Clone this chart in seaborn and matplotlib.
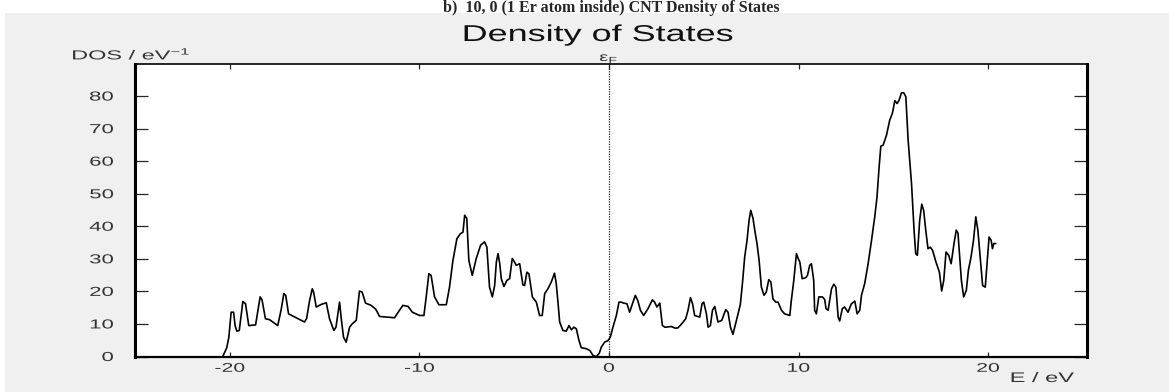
import numpy as np
import pandas as pd
import matplotlib
matplotlib.use("Agg")
import matplotlib.pyplot as plt
import seaborn as sns
from matplotlib.patheffects import AbstractPathEffect
from matplotlib.transforms import Affine2D

# ==============================
# DATA
# ==============================

energy = [
    -20.37, -20.16, -20.05, -19.93, -19.80, -19.72, -19.63, -19.50, -19.31, -19.17,
    -19.00, -18.64, -18.40, -18.30, -18.12, -17.90, -17.47, -17.29, -17.15, -17.05,
    -16.90, -16.50, -16.06, -15.95, -15.79, -15.65, -15.58, -15.44, -15.18, -14.91,
    -14.74, -14.51, -14.40, -14.21, -14.12, -14.00, -13.86, -13.68, -13.55, -13.33,
    -13.16, -13.02, -12.84, -12.54, -12.30, -12.10, -11.31, -11.05, -10.87, -10.60,
    -10.37, -9.99, -9.76, -9.64, -9.50, -9.38, -9.20, -8.97, -8.58, -8.41,
    -8.23, -8.02, -7.84, -7.70, -7.61, -7.50, -7.39, -7.21, -7.00, -6.77,
    -6.56, -6.44, -6.30, -6.15, -6.03, -5.94, -5.85, -5.76, -5.68, -5.54,
    -5.38, -5.24, -5.10, -4.98, -4.89, -4.71, -4.54, -4.45, -4.33, -4.22,
    -4.04, -3.83, -3.66, -3.52, -3.39, -3.22, -3.04, -2.87, -2.78, -2.69,
    -2.60, -2.43, -2.25, -2.11, -1.98, -1.85, -1.72, -1.58, -1.46, -1.19,
    -1.00, -0.84, -0.66, -0.51, -0.40, -0.23, -0.05, 0.07, 0.21, 0.39,
    0.53, 0.65, 0.78, 0.95, 1.09, 1.27, 1.39, 1.52, 1.66, 1.83,
    2.06, 2.29, 2.41, 2.53, 2.68, 2.82, 2.95, 3.29, 3.50, 3.64,
    3.83, 4.05, 4.17, 4.30, 4.41, 4.52, 4.79, 4.91, 5.00, 5.14,
    5.23, 5.35, 5.46, 5.58, 5.75, 5.95, 6.16, 6.28, 6.41, 6.54,
    6.68, 6.81, 6.93, 7.04, 7.16, 7.28, 7.39, 7.48, 7.60, 7.69,
    7.81, 7.92, 8.04, 8.18, 8.30, 8.43, 8.54, 8.65, 8.80, 8.92,
    9.10, 9.27, 9.54, 9.62, 9.75, 9.89, 9.98, 10.07, 10.19, 10.38,
    10.47, 10.59, 10.68, 10.80, 10.85, 10.94, 11.07, 11.26, 11.38, 11.45,
    11.56, 11.74, 11.86, 11.97, 12.09, 12.17, 12.31, 12.43, 12.61, 12.79,
    12.97, 13.09, 13.23, 13.32, 13.49, 13.67, 13.85, 14.02, 14.14, 14.25,
    14.34, 14.46, 14.64, 14.81, 14.95, 15.08, 15.20, 15.31, 15.43, 15.55,
    15.66, 15.78, 15.96, 16.10, 16.18, 16.27, 16.39, 16.50, 16.60, 16.71,
    16.83, 16.95, 17.07, 17.25, 17.43, 17.55, 17.66, 17.78, 17.92, 18.05,
    18.20, 18.32, 18.41, 18.50, 18.59, 18.71, 18.85, 18.96, 19.10, 19.23,
    19.35, 19.46, 19.59, 19.71, 19.85, 19.95, 20.05, 20.16, 20.23, 20.30,
    20.40,
]

dos = [
    0.0, 2.7, 5.9, 13.6, 13.6, 9.5, 7.8, 8.0, 16.9, 16.2,
    9.5, 9.7, 18.3, 17.4, 11.6, 11.3, 9.5, 14.4, 19.3, 18.8,
    13.1, 11.9, 10.6, 11.6, 17.2, 20.8, 19.8, 15.2, 16.0, 16.5,
    11.6, 8.0, 9.0, 16.7, 11.6, 5.9, 4.4, 9.0, 10.0, 11.1,
    20.1, 19.8, 16.4, 15.7, 14.5, 12.3, 11.9, 14.2, 15.7, 15.4,
    13.6, 12.6, 12.6, 18.3, 25.4, 24.9, 18.3, 15.9, 15.9, 21.3,
    29.5, 36.2, 37.7, 38.2, 43.4, 42.4, 29.5, 24.9, 30.1, 34.2,
    35.2, 33.6, 21.3, 18.3, 21.8, 29.0, 31.6, 28.5, 23.9, 21.5,
    23.4, 23.9, 30.1, 29.0, 28.0, 28.5, 22.0, 21.8, 25.9, 25.4,
    18.3, 16.7, 12.6, 12.6, 19.3, 20.8, 22.9, 25.6, 22.4, 16.7,
    10.6, 8.0, 7.8, 9.5, 8.2, 9.0, 8.5, 4.9, 2.7, 2.4,
    1.8, 0.3, 0.0, 1.0, 2.9, 4.4, 4.9, 5.9, 9.0, 12.6,
    16.7, 16.7, 16.4, 16.2, 13.6, 16.7, 18.8, 17.2, 14.2, 12.6,
    14.7, 17.4, 16.7, 15.2, 16.4, 9.5, 9.0, 9.2, 8.7, 8.8,
    10.0, 11.6, 14.2, 18.1, 16.2, 12.6, 12.1, 16.2, 16.7, 13.1,
    9.0, 9.5, 14.2, 15.4, 10.6, 11.1, 14.4, 13.6, 9.0, 6.8,
    10.0, 13.1, 16.0, 22.4, 30.6, 35.5, 41.8, 44.9, 42.4, 38.8,
    34.7, 29.5, 21.3, 18.8, 19.8, 23.6, 22.9, 17.7, 16.7, 16.7,
    14.2, 13.1, 12.6, 17.2, 23.4, 31.6, 30.1, 29.0, 23.9, 24.2,
    24.9, 28.0, 28.5, 23.4, 14.2, 13.1, 18.3, 18.3, 17.5, 14.7,
    14.2, 20.8, 22.2, 21.3, 12.1, 10.9, 14.7, 15.2, 13.6, 16.2,
    17.0, 13.1, 14.2, 18.8, 22.4, 28.5, 35.7, 42.9, 49.0, 58.2,
    64.6, 64.9, 68.0, 72.6, 74.7, 78.6, 77.7, 78.8, 81.0, 81.0,
    79.8, 66.5, 53.1, 38.2, 31.6, 31.1, 41.8, 46.8, 44.9, 38.8,
    33.1, 33.6, 32.6, 29.0, 25.9, 20.1, 23.4, 32.1, 31.1, 28.5,
    34.7, 38.8, 37.9, 30.6, 23.4, 18.3, 20.3, 26.5, 30.6, 35.7,
    42.9, 38.8, 30.1, 21.8, 21.3, 29.0, 36.7, 35.7, 33.1, 34.7,
    34.7,
]

x_ticks = [-20, -10, 0, 10, 20]
y_ticks = [0, 10, 20, 30, 40, 50, 60, 70, 80]

df = pd.DataFrame({"E": energy, "DOS": dos})


# the original screenshot is stretched sideways, so widen the text glyphs
class WideText(AbstractPathEffect):
    def __init__(self, sx=1.6, anchor="center"):
        super().__init__()
        self.sx = sx
        self.anchor = anchor

    def draw_path(self, renderer, gc, tpath, affine, rgbFace=None):
        box = tpath.get_extents(affine)
        if self.anchor == "left":
            a = box.x0
        elif self.anchor == "right":
            a = box.x1
        else:
            a = 0.5 * (box.x0 + box.x1)
        stretch = Affine2D().translate(-a, 0).scale(self.sx, 1).translate(a, 0)
        renderer.draw_path(gc, tpath, affine + stretch, rgbFace)


# ==============================
# STYLE
# ==============================

sns.set_style("ticks")
plt.rcParams["font.family"] = ["Liberation Sans", "DejaVu Sans"]
plt.rcParams["axes.unicode_minus"] = False

fig = plt.figure(figsize=(11.69, 3.92), dpi=100, facecolor="white")

# grey window panel behind the plot
fig.patches.append(
    plt.Rectangle((5 / 1169, 0), 1, 1 - 13 / 392,
                  transform=fig.transFigure, facecolor="#f0f0f0",
                  edgecolor="none", zorder=-10)
)

ax = fig.add_axes([135 / 1169, 35.5 / 392, 951.7 / 1169, 293 / 392])
ax.set_facecolor("white")
ax.set_zorder(5)

sns.lineplot(data=df, x="E", y="DOS", ax=ax, color="black",
             linewidth=1.2, estimator=None, sort=False)

# Fermi level
ax.axvline(0, color="#222222", linestyle=(0, (1, 1)), linewidth=0.9)

ax.set_xlim(-25, 25.2)
ax.set_ylim(0, 90)
ax.set_xticks(x_ticks)
ax.set_yticks(y_ticks)
ax.set_xlabel("")
ax.set_ylabel("")

ax.tick_params(axis="x", direction="in", length=3.6, width=0.9,
               top=True, bottom=True, labelsize=9, labelcolor="#333333", pad=4.5)
ax.tick_params(axis="y", direction="in", length=9.5, width=0.9,
               left=True, right=True, labelsize=9.4, labelcolor="#333333", pad=15.5)

for lab in ax.get_xticklabels():
    lab.set_path_effects([WideText(1.7, "center")])
for lab in ax.get_yticklabels():
    lab.set_path_effects([WideText(1.7, "right")])

for side, lw in [("left", 2.2), ("right", 2.2), ("top", 1.2), ("bottom", 1.6)]:
    ax.spines[side].set_visible(True)
    ax.spines[side].set_linewidth(lw)
    ax.spines[side].set_color("black")

# ==============================
# TEXTS
# ==============================

fig.text(611 / 1169, 1 - 11.5 / 392, "b)  10, 0 (1 Er atom inside) CNT Density of States",
         ha="center", va="baseline", fontsize=11.5, fontweight="bold",
         family=["Liberation Serif", "DejaVu Serif"])

fig.text(598 / 1169, 1 - 41 / 392, "Density of States",
         ha="center", va="baseline", fontsize=16.5, color="#111111",
         path_effects=[WideText(1.57, "center")])

fig.text(72 / 1169, 1 - 59.5 / 392, "DOS / eV$\\mathregular{^{-1}}$",
         ha="left", va="baseline", fontsize=9.4, color="#333333",
         path_effects=[WideText(1.8, "left")])

fig.text(609 / 1169, 1 - 61 / 392, "ε$\\mathregular{_F}$",
         ha="center", va="baseline", fontsize=9, color="#333333",
         path_effects=[WideText(1.6, "center")])

fig.text(1074 / 1169, 1 - 382 / 392, "E / eV",
         ha="right", va="baseline", fontsize=10, color="#333333",
         path_effects=[WideText(1.7, "right")])

plt.savefig("out.png", dpi=100, facecolor=fig.get_facecolor())
